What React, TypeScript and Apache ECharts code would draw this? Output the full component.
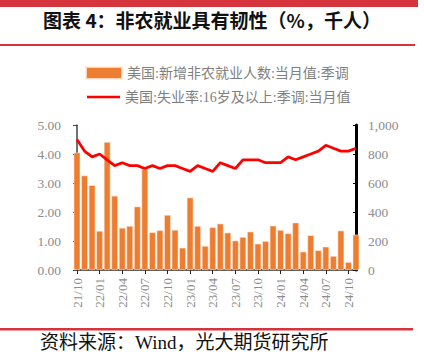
import React, { useEffect, useRef } from "react";
import * as echarts from "echarts";

const categories = [
  "21/10", "21/11", "21/12", "22/01", "22/02", "22/03", "22/04", "22/05", "22/06", "22/07",
  "22/08", "22/09", "22/10", "22/11", "22/12", "23/01", "23/02", "23/03", "23/04", "23/05",
  "23/06", "23/07", "23/08", "23/09", "23/10", "23/11", "23/12", "24/01", "24/02", "24/03",
  "24/04", "24/05", "24/06", "24/07", "24/08", "24/09", "24/10", "24/11",
];

const payrolls = [
  810, 652, 585, 270, 883, 512, 291, 304, 438, 696,
  260, 274, 380, 277, 154, 500, 304, 166, 295, 320,
  258, 203, 228, 265, 182, 200, 306, 276, 253, 327,
  127, 240, 136, 161, 97, 272, 55, 244,
];

const unemployment = [
  4.5, 4.1, 3.9, 4.0, 3.8, 3.6, 3.7, 3.6, 3.6, 3.5,
  3.6, 3.5, 3.6, 3.6, 3.5, 3.4, 3.6, 3.5, 3.4, 3.7,
  3.6, 3.5, 3.8, 3.8, 3.8, 3.7, 3.7, 3.7, 3.9, 3.8,
  3.9, 4.0, 4.1, 4.3, 4.2, 4.1, 4.1, 4.2,
];

const barName = "美国:新增非农就业人数:当月值:季调";
const lineName = "美国:失业率:16岁及以上:季调:当月值";
const title = "图表 4：非农就业具有韧性（%，千人）";
const source = "资料来源：Wind，光大期货研究所";

const serif = "Liberation Serif, Noto Sans CJK SC, serif";
const gray = "#8c8c8c";

export default function App() {
  const ref = useRef<HTMLDivElement>(null);
  useEffect(() => {
    if (!ref.current) return;
    const chart = echarts.init(ref.current, undefined, { renderer: "svg" });
    const legendText = { color: "#7f7f7f", fontSize: 14, fontFamily: serif };
    chart.setOption({
      animation: false,
      backgroundColor: "#ffffff",
      graphic: [
        { type: "rect", shape: { x: 0, y: 0, width: 418, height: 7 }, style: { fill: "#d5343c" } },
        { type: "rect", shape: { x: 0, y: 44, width: 415, height: 2 }, style: { fill: "#d5343c" } },
        { type: "rect", shape: { x: 0, y: 328, width: 413, height: 2.5 }, style: { fill: "#d5343c" } },
        {
          type: "text",
          x: 212,
          y: 19,
          style: {
            text: title,
            fill: "#111",
            font: "bold 19px Noto Sans CJK SC, sans-serif",
            textAlign: "center",
            textVerticalAlign: "middle",
          },
        },
        {
          type: "text",
          x: 40,
          y: 342,
          style: {
            text: source,
            fill: "#111",
            font: "19px Liberation Serif, Noto Sans CJK SC, serif",
            textAlign: "left",
            textVerticalAlign: "middle",
          },
        },
      ],
      legend: [
        {
          left: 85,
          top: 66,
          padding: 0,
          itemWidth: 36,
          itemHeight: 12,
          itemGap: 0,
          textStyle: legendText,
          data: [{ name: barName, icon: "rect" }],
        },
        {
          left: 87,
          top: 90,
          padding: 0,
          itemWidth: 33,
          itemHeight: 2.5,
          itemGap: 0,
          textStyle: legendText,
          data: [{ name: lineName, icon: "rect" }],
        },
      ],
      grid: { left: 77, right: 68, top: 125, bottom: 82, containLabel: false },
      xAxis: {
        type: "category",
        data: categories,
        boundaryGap: false,
        axisLine: { lineStyle: { color: "#222", width: 1.5 } },
        axisTick: { show: true, interval: 2, length: 4, lineStyle: { color: "#222" } },
        axisLabel: {
          interval: 2,
          rotate: 90,
          margin: 8,
          color: gray,
          fontSize: 13,
          fontFamily: serif,
        },
      },
      yAxis: [
        {
          type: "value",
          min: 0,
          max: 5,
          interval: 1,
          position: "left",
          splitLine: { show: false },
          axisLine: { show: true, lineStyle: { color: "#404040", width: 1.5 } },
          axisTick: { show: true, length: 4, lineStyle: { color: "#404040" } },
          axisLabel: {
            margin: 16,
            color: gray,
            fontSize: 13.5,
            fontFamily: serif,
            formatter: (v: number) => v.toFixed(2),
          },
        },
        {
          type: "value",
          min: 0,
          max: 1000,
          interval: 200,
          position: "right",
          splitLine: { show: false },
          axisLine: { show: true, lineStyle: { color: "#000", width: 3 } },
          axisTick: { show: true, inside: true, length: 3, lineStyle: { color: "#000" } },
          axisLabel: {
            margin: 12,
            color: gray,
            fontSize: 13.5,
            fontFamily: serif,
            formatter: (v: number) => v.toLocaleString("en-US"),
          },
        },
      ],
      series: [
        {
          name: barName,
          type: "bar",
          yAxisIndex: 1,
          data: payrolls,
          barWidth: "89%",
          clip: true,
          itemStyle: {
            color: "#ed7d31",
            borderColor: "rgba(255,235,220,0.8)",
            borderWidth: 0.7,
          },
          z: 2,
        },
        {
          name: lineName,
          type: "line",
          yAxisIndex: 0,
          data: unemployment,
          symbol: "none",
          lineStyle: { color: "#ff0000", width: 2.75 },
          itemStyle: { color: "#ff0000" },
          z: 3,
        },
      ],
    });
    return () => chart.dispose();
  }, []);
  return (
    <div
      ref={ref}
      style={{ position: "fixed", left: 0, top: 0, width: 424, height: 352 }}
    />
  );
}
